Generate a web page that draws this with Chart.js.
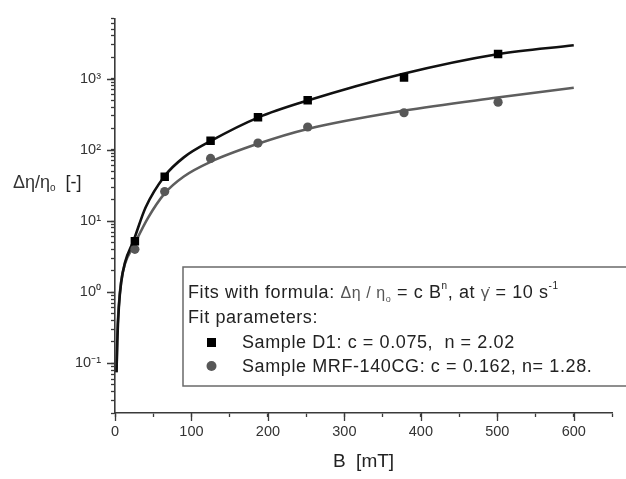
<!DOCTYPE html>
<html>
<head>
<meta charset="utf-8">
<script src="https://cdn.jsdelivr.net/npm/chart.js@4.4.1/dist/chart.umd.min.js"></script>
<style>
  body { margin: 0; background: #fff; }
  #wrap { width: 626px; height: 479px; }
</style>
</head>
<body>
<div id="wrap"><canvas id="myChart"></canvas></div>
<script>
// measured points, B [mT]
const bD1 = [26, 65, 125, 187, 252, 378, 501];
const etaD1 = [5.2, 42, 135, 288, 498, 1040, 2240];
const bMRF = [26, 65, 125, 187, 252, 378, 501];
const etaMRF = [4.0, 26, 76, 125, 210, 333, 470];

// fitted curves
const fitBD1 = [2, 3, 5, 8, 13, 24, 40, 65, 90, 126, 187, 252, 377, 500, 600];
const fitD1 = [0.075, 0.2, 0.6, 1.35, 2.6, 5.2, 15.5, 43, 78.6, 135, 285, 495, 1180, 2220, 2970];
const fitBMRF = [2, 3, 5, 8, 13, 24, 43, 65, 90, 125, 187, 252, 377, 500, 600];
const fitMRF = [0.075, 0.25, 0.65, 1.4, 2.5, 4.4, 11, 24.5, 42.3, 68, 122, 197, 355, 545, 750];

const yTickValues = [];
for (let e = -2; e <= 3; e++) {
  for (let s = 1; s <= 9; s++) {
    const v = +(s * Math.pow(10, e)).toPrecision(3);
    if (v >= 0.02 && v <= 7000) yTickValues.push(v);
  }
}
const yLabels = { '0.1': '10⁻¹', '1': '10⁰', '10': '10¹', '100': '10²', '1000': '10³' };

function pairs(xs, ys) {
  return xs.map((x, i) => ({ x: x, y: ys[i] }));
}

const GREY = '#575757';
const AXIS = '#3a3a3a';
const FONT = '"Liberation Sans", Arial, sans-serif';

function drawRich(ctx, x, y, parts, spacing) {
  ctx.letterSpacing = spacing || '0px';
  parts.forEach(p => {
    ctx.font = (p.size || 18) + 'px ' + FONT;
    ctx.fillStyle = p.color || '#222';
    ctx.fillText(p.t, x, y + (p.dy || 0));
    x += ctx.measureText(p.t).width;
  });
  ctx.letterSpacing = '0px';
  return x;
}

const extras = {
  id: 'extras',
  afterDraw(chart) {
    const ctx = chart.ctx;
    const xs = chart.scales.x, ys = chart.scales.y;
    const area = chart.chartArea;
    ctx.save();
    // longer major ticks
    ctx.strokeStyle = AXIS;
    ctx.lineWidth = 1.3;
    ctx.beginPath();
    [0.1, 1, 10, 100, 1000].forEach(v => {
      const py = Math.round(ys.getPixelForValue(v)) + 0.5;
      ctx.moveTo(area.left, py);
      ctx.lineTo(area.left - 8, py);
    });
    [0, 100, 200, 300, 400, 500, 600].forEach(v => {
      const px = Math.round(xs.getPixelForValue(v)) + 0.5;
      ctx.moveTo(px, area.bottom);
      ctx.lineTo(px, area.bottom + 8);
    });
    ctx.stroke();

    // y title, horizontal
    ctx.textBaseline = 'alphabetic';
    drawRich(ctx, 13, 188, [
      { t: 'Δη/η', size: 18, color: '#333' },
      { t: 'o', size: 10, dy: 3, color: '#333' },
      { t: '  [-]', size: 18, color: '#222' }
    ]);

    // legend box
    const bx = 183, by = 267, bw = 460, bh = 119;
    ctx.fillStyle = '#fff';
    ctx.fillRect(bx, by, bw, bh);
    ctx.strokeStyle = '#6a6a6a';
    ctx.lineWidth = 1.5;
    ctx.strokeRect(bx, by, bw, bh);

    const sp = '0.6px';
    drawRich(ctx, 188, 298, [
      { t: 'Fits with formula: ' },
      { t: 'Δη / η', size: 16, color: '#555' },
      { t: 'o', size: 9, dy: 4, color: '#555' },
      { t: ' = c B' },
      { t: 'n', size: 10, dy: -9 },
      { t: ', at ' },
      { t: 'γ̇', size: 17, color: '#555' },
      { t: ' = 10 s' },
      { t: '-1', size: 10, dy: -9 }
    ], sp);
    drawRich(ctx, 188, 323, [{ t: 'Fit parameters:' }], sp);
    drawRich(ctx, 242, 348, [{ t: 'Sample D1: c = 0.075,  n = 2.02' }], sp);
    drawRich(ctx, 242, 372, [{ t: 'Sample MRF-140CG: c = 0.162, n= 1.28.' }], sp);

    ctx.fillStyle = '#000';
    ctx.fillRect(207, 338, 9, 9);
    ctx.fillStyle = GREY;
    ctx.beginPath();
    ctx.arc(211.5, 366, 5, 0, Math.PI * 2);
    ctx.fill();
    ctx.restore();
  }
};

const ctx = document.getElementById('myChart');

new Chart(ctx, {
  type: 'scatter',
  data: {
    datasets: [{
      label: 'Sample D1',
      data: pairs(bD1, etaD1),
      pointStyle: 'rect',
      pointRadius: 6,
      backgroundColor: '#000',
      borderColor: '#000',
      borderWidth: 0,
      showLine: false
    }, {
      label: 'Sample MRF-140CG',
      data: pairs(bMRF, etaMRF),
      pointStyle: 'circle',
      pointRadius: 4.6,
      backgroundColor: GREY,
      borderColor: GREY,
      borderWidth: 0,
      showLine: false
    }, {
      label: 'fit D1',
      data: pairs(fitBD1, fitD1),
      showLine: true,
      pointRadius: 0,
      borderColor: '#111',
      borderWidth: 2.6,
      cubicInterpolationMode: 'monotone'
    }, {
      label: 'fit MRF-140CG',
      data: pairs(fitBMRF, fitMRF),
      showLine: true,
      pointRadius: 0,
      borderColor: '#5e5e5e',
      borderWidth: 2.6,
      cubicInterpolationMode: 'monotone'
    }]
  },
  options: {
    responsive: true,
    maintainAspectRatio: false,
    animation: false,
    layout: {
      padding: { left: 0, right: 14, top: 7, bottom: 0 }
    },
    scales: {
      x: {
        type: 'linear',
        min: 0,
        max: 650,
        afterFit: (s) => { s.height = 66; },
        afterBuildTicks: (s) => {
          s.ticks = [];
          for (let v = 0; v <= 650; v += 50) s.ticks.push({ value: v });
        },
        ticks: {
          autoSkip: false,
          maxRotation: 0,
          padding: 6,
          color: '#333',
          font: { family: FONT, size: 14.5 },
          callback: (v) => (v % 100 === 0 ? String(v) : '')
        },
        grid: {
          display: true,
          drawOnChartArea: false,
          tickLength: 4,
          tickColor: AXIS,
          tickWidth: 1.3
        },
        border: { display: true, color: AXIS, width: 1.6 },
        title: {
          display: true,
          text: 'B  [mT]',
          color: '#222',
          font: { family: FONT, size: 19 },
          padding: { top: 0, bottom: 6 }
        }
      },
      y: {
        type: 'logarithmic',
        min: 0.02,
        max: 7000,
        afterFit: (s) => { s.width = 115; },
        afterBuildTicks: (s) => {
          s.ticks = yTickValues.map(v => ({ value: v }));
        },
        ticks: {
          autoSkip: false,
          padding: 10,
          color: '#333',
          font: { family: FONT, size: 14.5 },
          callback: (v) => yLabels[String(+v.toPrecision(3))] || ''
        },
        grid: {
          display: true,
          drawOnChartArea: false,
          tickLength: 4,
          tickColor: AXIS,
          tickWidth: 1.3
        },
        border: { display: true, color: AXIS, width: 1.6 }
      }
    },
    plugins: {
      legend: { display: false },
      tooltip: { enabled: false }
    }
  },
  plugins: [extras]
});
</script>
</body>
</html>
